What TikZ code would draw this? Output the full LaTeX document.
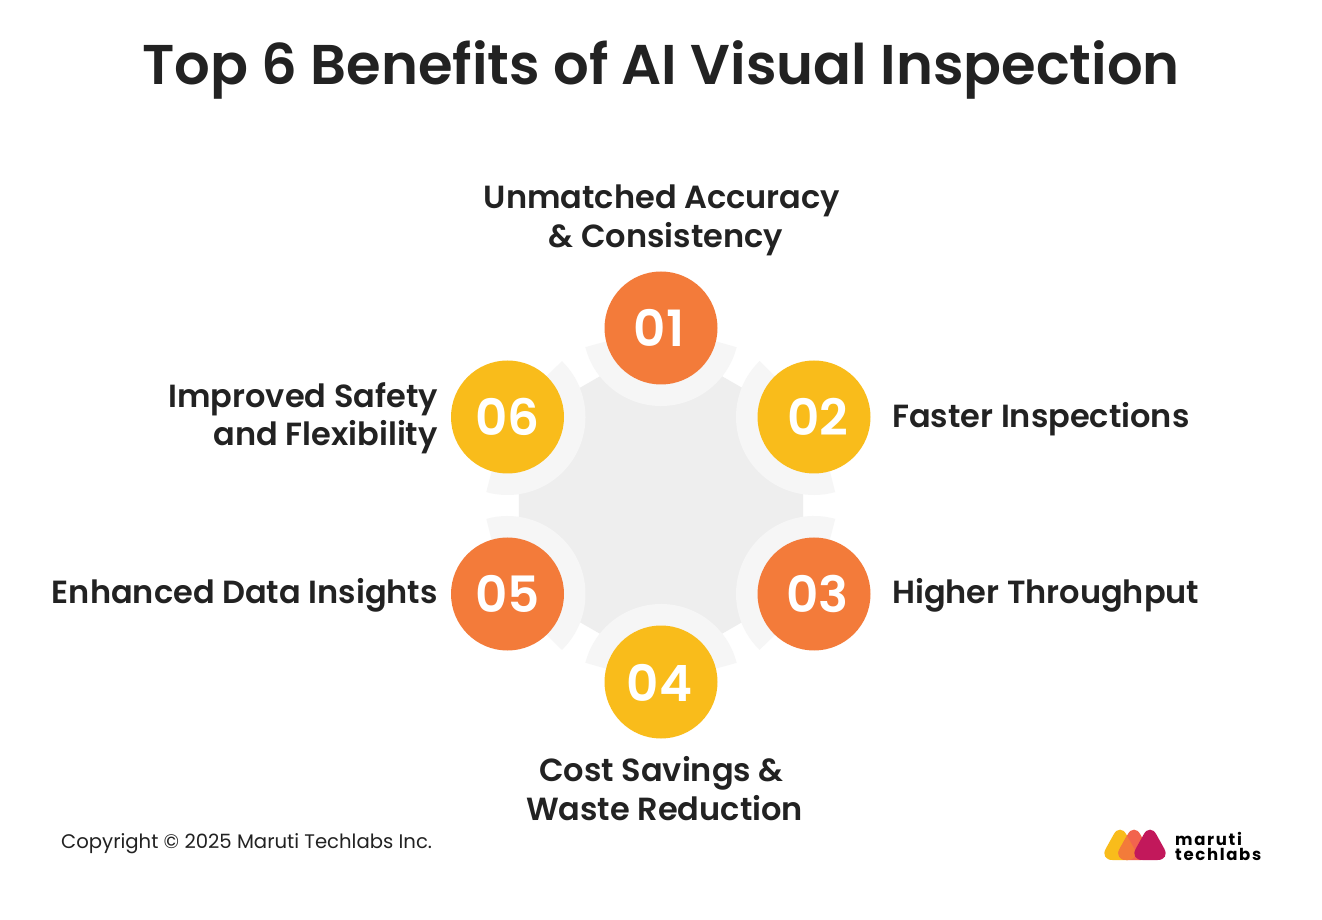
\documentclass[tikz,border=0pt]{standalone}
\usepackage{fontspec}
\setmainfont{Poppins}
\newfontfamily\semifont{Poppins SemiBold}
\usetikzlibrary{shapes.geometric}
\definecolor{inkc}{HTML}{222222}
\definecolor{orangec}{HTML}{F37B3A}
\definecolor{yellowc}{HTML}{F9BC1B}
\definecolor{hexc}{HTML}{EEEEEE}
\definecolor{ringc}{HTML}{F6F6F6}
\definecolor{redc}{HTML}{F2644E}
\definecolor{crimc}{HTML}{C2185B}
\tikzset{
  numdot/.style={circle, minimum size=113pt, inner sep=0pt, text=white, text height=37pt, text depth=0pt, font=\semifont\fontsize{50}{50}\selectfont},
  lab/.style={text=inkc, inner sep=0pt, font=\semifont\fontsize{32}{39}\selectfont},
  logotri/.style={rounded corners=13pt},
}
\begin{document}
\begin{tikzpicture}[x=1pt,y=1pt]
\useasboundingbox (0,0) rectangle (1322,919);
\fill[white] (0,0) rectangle (1322,919);
% Title
\node[text=inkc, inner sep=0pt, font=\semifont\fontsize{56}{60}\selectfont] (title) at (661,849) {Top 6 Benefits of AI Visual Inspection};
% Hexagon
\node[regular polygon, regular polygon sides=6, shape border rotate=30, minimum size=328pt, inner sep=0pt, outer sep=0pt, fill=hexc] (hub) at (661,414) {};
% Rings
\foreach \x/\y/\a in {661/591/270, 814/502/210, 814/325/150, 661/237/90, 507.5/325/30, 507.5/502/-30}
    \draw[ringc, line width=24pt] (\x,\y) ++(\a-76:66) arc[start angle=\a-76, end angle=\a+76, radius=66];
% Circles
\node[numdot, fill=orangec] (n1) at (661,591) {\hspace*{-4pt}01};
\node[numdot, fill=yellowc] (n2) at (814,502) {\hspace*{7pt}02};
\node[numdot, fill=orangec] (n3) at (814,325) {\hspace*{7pt}03};
\node[numdot, fill=yellowc] (n4) at (661,237) {\raisebox{-1pt}{\hspace*{-3pt}04}};
\node[numdot, fill=orangec] (n5) at (507.5,325) {05};
\node[numdot, fill=yellowc] (n6) at (507.5,502) {06};
% Labels
\node[lab, align=center] (l1) at (662,699) {Unmatched Accuracy\\\hspace*{8pt}\& Consistency};
\node[lab, anchor=west] (l2) at (892,500) {Faster Inspections};
\node[lab, anchor=west] (l3) at (892,324) {Higher Throughput};
\node[lab, align=center] (l4) at (664.5,130) {\hspace*{-6pt}Cost Savings \&\\Waste Reduction};
\node[lab, anchor=east] (l5) at (438,324) {Enhanced Data Insights};
\node[lab, anchor=east, align=right] (l6) at (438,501) {Improved Safety\\[-1pt]and Flexibility};
% Footer
\node[text=inkc, inner sep=0pt, anchor=west, font=\fontsize{19.65}{24}\selectfont] (copy) at (61,75) {Copyright © 2025 Maruti Techlabs Inc.};
% Logo
\fill[yellowc, logotri] (1120,96) -- (1099.5,59) -- (1140.5,59) -- cycle;
\fill[redc, logotri] (1134,96) -- (1113.5,59) -- (1154.5,59) -- cycle;
\begin{scope}
\clip[logotri] (1120,96) -- (1099.5,59) -- (1140.5,59) -- cycle;
\fill[orangec, logotri] (1134,96) -- (1113.5,59) -- (1154.5,59) -- cycle;
\end{scope}
\fill[crimc, logotri] (1150,96) -- (1129.5,59) -- (1170.5,59) -- cycle;
\node[text=black, inner sep=0pt, anchor=west, align=left, font=\bfseries\addfontfeature{LetterSpace=10}\fontsize{16.5}{15}\selectfont] (brand) at (1175,73) {maruti\\techlabs};
\end{tikzpicture}
\end{document}
